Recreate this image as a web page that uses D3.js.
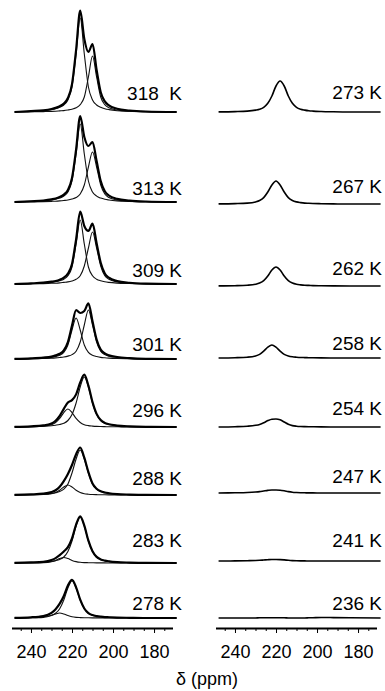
<!DOCTYPE html>
<html>
<head>
<meta charset="utf-8">
<script src="https://cdn.jsdelivr.net/npm/d3@7"></script>
<style>
  body { margin: 0; background: #fff; }
  svg { display: block; font-family: "Liberation Sans", Arial, Helvetica, sans-serif; }
</style>
</head>
<body>
<div id="viz"></div>
<script>
// chemical shift grid (ppm) shared by every trace
const ppm = [248, 240, 234, 230, 228, 226, 224, 222, 220, 218, 216, 214, 212, 210, 208, 206, 204, 202, 198, 192, 184, 169];

// left column: two fitted components per temperature, the sum is the thick trace
const tempsHigh = ["318  K", "313 K", "309 K", "301 K", "296 K", "288 K", "283 K", "278 K"];
const k318a = [0, 0.7, 1.3, 2.4, 3.3, 4.7, 7, 12, 25, 58, 94, 58, 25, 12, 7, 4.7, 3.3, 2.4, 1.3, 0.7, 0.2, 0];
const k318b = [0, 0.2, 0.4, 0.6, 0.8, 1.1, 1.4, 2, 2.8, 4.2, 7.3, 15, 35, 56, 35, 15, 7.3, 4.2, 2, 0.8, 0.3, 0];
const k313a = [0, 0.6, 1.1, 2, 2.7, 3.9, 5.9, 10, 21, 48, 78, 48, 21, 10, 5.9, 3.9, 2.7, 2, 1.1, 0.6, 0.2, 0];
const k313b = [0, 0.15, 0.4, 0.65, 0.8, 1.1, 1.5, 2, 3, 4.5, 8, 17, 35, 50, 35, 17, 8, 4.5, 2, 0.8, 0.3, 0];
const k309a = [0, 0.45, 0.9, 1.6, 2.2, 3.2, 4.8, 8.3, 17, 40, 64, 40, 17, 8.3, 4.8, 3.2, 2.2, 1.6, 0.9, 0.45, 0.1, 0];
const k309b = [0, 0.16, 0.4, 0.7, 0.8, 1.1, 1.6, 2.1, 3.1, 4.7, 8.3, 18, 36, 52, 36, 18, 8.3, 4.7, 2.1, 0.8, 0.3, 0];
const k301a = [0.1, 0.4, 0.9, 1.6, 2.5, 3.7, 6.6, 14, 29, 41, 29, 14, 6.6, 3.7, 2.5, 1.6, 1.2, 0.9, 0.5, 0.25, 0, 0];
const k301b = [0, 0.2, 0.5, 0.8, 1.1, 1.5, 2, 2.9, 4.4, 7.8, 17, 34, 49, 34, 17, 7.8, 4.4, 2.9, 1.5, 0.6, 0.2, 0];
const k296a = [0.1, 0.35, 0.9, 2.3, 4.5, 8.6, 14.4, 18, 14.4, 8.6, 4.5, 2.3, 1.35, 0.9, 0.6, 0.45, 0.35, 0.25, 0.2, 0.1, 0, 0];
const k296b = [0.1, 0.35, 0.7, 1.25, 1.8, 2.5, 3.75, 6.5, 12.5, 24, 40, 50, 40, 24, 12.5, 6.5, 3.75, 2.5, 1.25, 0.55, 0.2, 0];
const k288a = [0.06, 0.2, 0.5, 1.3, 2.5, 4.8, 8, 10, 8, 4.8, 2.5, 1.3, 0.8, 0.5, 0.35, 0.25, 0.2, 0.15, 0.1, 0.04, 0, 0];
const k288b = [0.1, 0.4, 0.8, 1.6, 2.25, 3.4, 5.9, 11, 22, 36, 45, 36, 22, 11, 5.9, 3.4, 2.25, 1.6, 0.8, 0.4, 0.1, 0];
const k283a = [0.04, 0.14, 0.4, 1.4, 2.6, 4.4, 5.5, 4.4, 2.6, 1.4, 0.7, 0.4, 0.3, 0.2, 0.14, 0.1, 0.08, 0.06, 0.04, 0.02, 0, 0];
const k283b = [0.1, 0.4, 0.8, 1.6, 2.3, 3.5, 6, 11.5, 22, 37, 46, 37, 22, 11.5, 6, 3.5, 2.3, 1.6, 0.8, 0.4, 0.1, 0];
const k278a = [0.05, 0.2, 0.65, 2.4, 4, 5, 4, 2.4, 1.25, 0.65, 0.4, 0.25, 0.18, 0.12, 0.09, 0.07, 0.05, 0.05, 0.03, 0.01, 0, 0];
const k278b = [0.15, 0.5, 1.3, 2.8, 4.8, 9.3, 18, 30, 37, 30, 18, 9.3, 4.8, 2.8, 1.85, 1.3, 0.9, 0.7, 0.4, 0.2, 0, 0];

// right column: one trace per temperature
const tempsLow = ["273 K", "267 K", "262 K", "258 K", "254 K", "247 K", "241 K", "236 K"];
const k273 = [0.1, 0.4, 0.9, 1.9, 2.8, 4.7, 8.7, 16, 26, 31, 26, 16, 8.7, 4.7, 2.8, 1.9, 1.25, 0.9, 0.5, 0.2, 0, 0];
const k267 = [0.1, 0.4, 0.9, 2.1, 3.5, 6.4, 12, 19, 23, 19, 12, 6.4, 3.5, 2.1, 1.4, 0.9, 0.7, 0.5, 0.3, 0.1, 0, 0];
const k262 = [0.1, 0.3, 0.75, 1.7, 2.9, 5.3, 10, 16, 19, 16, 10, 5.3, 2.9, 1.7, 1.15, 0.75, 0.6, 0.4, 0.25, 0.1, 0, 0];
const k258 = [0.07, 0.3, 0.8, 2, 3.6, 6.8, 10.8, 13, 10.8, 6.8, 3.6, 2, 1.2, 0.8, 0.5, 0.4, 0.3, 0.2, 0.1, 0.05, 0, 0];
const k254 = [0.05, 0.3, 0.8, 1.7, 2.6, 4.2, 6.4, 7.8, 8, 7.2, 5, 2.8, 1.4, 0.8, 0.5, 0.35, 0.25, 0.2, 0.1, 0.05, 0, 0];
const k247 = [0, 0.2, 0.5, 1, 1.4, 2, 2.6, 3, 3, 2.8, 2.2, 1.4, 0.8, 0.5, 0.3, 0.2, 0.1, 0.1, 0, 0, 0, 0];
const k241 = [0, 0.1, 0.3, 0.5, 0.7, 1, 1.3, 1.5, 1.5, 1.4, 1.1, 0.7, 0.4, 0.2, 0.1, 0.1, 0, 0, 0, 0, 0, 0];
const k236 = [0, 0, 0, 0, 0.2, 0.2, 0.3, 0.3, 0.2, 0.2, 0.2, 0, 0, 0, 0, 0, 0.2, 0.3, 0.5, 0.4, 0.2, 0];

// axis labels
const tickLabels = [240, 220, 200, 180];
const xTitle = "\u03b4 (ppm)";

const highSpectra = [[k318a, k318b], [k313a, k313b], [k309a, k309b], [k301a, k301b],
    [k296a, k296b], [k288a, k288b], [k283a, k283b], [k278a, k278b]];
const lowSpectra = [k273, k267, k262, k258, k254, k247, k241, k236];

// layout
const width = 385, height = 691;
const axisY = 628;
const leftBase = [112, 202, 284, 359, 427, 495, 563, 618];
const rightBase = [112, 204, 286, 358, 427, 493, 561, 618];
const leftLabelY = [100, 195, 277, 351, 417, 485, 547, 610];
const rightLabelY = [99, 193, 275, 350, 415, 483, 547, 610];

const svg = d3.select("#viz")
    .append("svg")
    .attr("width", width)
    .attr("height", height);

svg.append("rect").attr("width", width).attr("height", height).attr("fill", "#fff");

// reversed ppm axis, about 2.05 px per ppm
const xLeft = d3.scaleLinear().domain([249.5, 171]).range([11.5, 172.5]);
const xRight = d3.scaleLinear().domain([249.5, 171]).range([215.5, 376.5]);

function drawPanel(x, rows, base, labelY, temps, labelX, thin) {
    rows.forEach((parts, i) => {
        const y = d3.scaleLinear().domain([0, 100]).range([base[i], base[i] - 100]);
        const line = d3.line()
            .x((d, j) => x(ppm[j]))
            .y(d => y(d))
            .curve(d3.curveMonotoneX);

        if (thin) {
            // fitted components
            parts.forEach(c => {
                svg.append("path")
                    .datum(c)
                    .attr("fill", "none")
                    .attr("stroke", "#111")
                    .attr("stroke-width", 1.1)
                    .attr("d", line);
            });
            const total = ppm.map((p, j) => d3.sum(parts, c => c[j]));
            svg.append("path")
                .datum(total)
                .attr("fill", "none")
                .attr("stroke", "#000")
                .attr("stroke-width", 2.2)
                .attr("stroke-linejoin", "round")
                .attr("d", line);
        } else {
            svg.append("path")
                .datum(parts)
                .attr("fill", "none")
                .attr("stroke", "#000")
                .attr("stroke-width", 1.6)
                .attr("d", line);
        }

        svg.append("text")
            .attr("x", labelX)
            .attr("y", labelY[i])
            .attr("text-anchor", "end")
            .attr("font-size", 19)
            .style("white-space", "pre")
            .text(temps[i]);
    });

    // minor ticks every 5 ppm
    svg.append("g")
        .attr("transform", `translate(0,${axisY})`)
        .call(d3.axisBottom(x).tickValues(d3.range(175, 250, 5)).tickSize(3).tickSizeOuter(0).tickFormat(""))
        .call(g => g.select(".domain").attr("stroke-width", 2));

    // labelled ticks
    svg.append("g")
        .attr("transform", `translate(0,${axisY})`)
        .attr("font-family", null)
        .call(d3.axisBottom(x).tickValues(tickLabels).tickSize(5).tickSizeOuter(0).tickPadding(12))
        .call(g => g.select(".domain").remove())
        .call(g => g.selectAll("text").attr("font-size", 18).attr("fill", "#000"));
}

drawPanel(xLeft, highSpectra, leftBase, leftLabelY, tempsHigh, 182, true);
drawPanel(xRight, lowSpectra, rightBase, rightLabelY, tempsLow, 382, false);

svg.append("text")
    .attr("x", 207)
    .attr("y", 685)
    .attr("text-anchor", "middle")
    .attr("font-size", 18)
    .text(xTitle);
</script>
</body>
</html>
